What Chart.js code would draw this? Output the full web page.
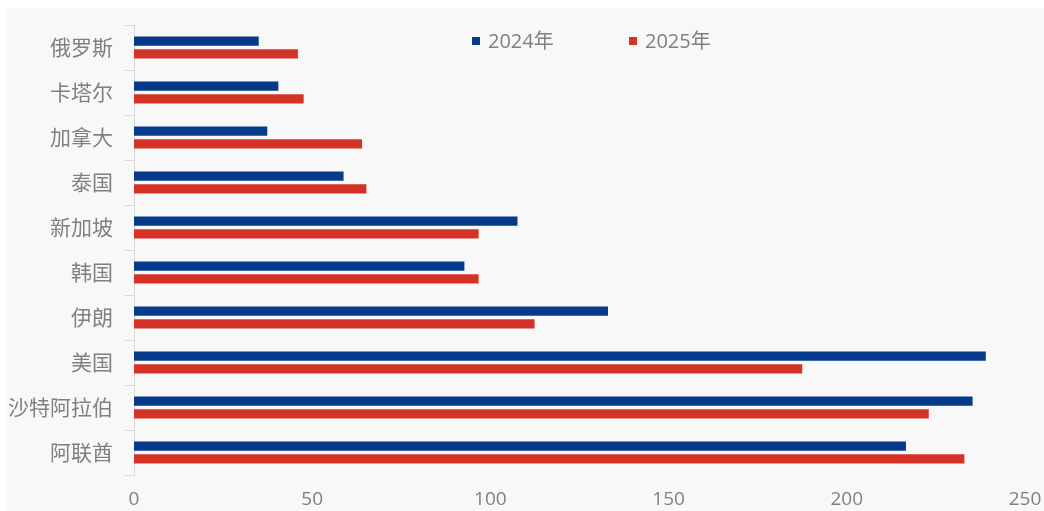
<!DOCTYPE html>
<html>
<head>
<meta charset="utf-8">
<script src="https://cdn.jsdelivr.net/npm/chart.js@4/dist/chart.umd.min.js"></script>
<style>
  html, body { margin: 0; padding: 0; background: #ffffff; }
  #wrap { width: 1044px; height: 511px; }
</style>
</head>
<body>
<div id="wrap"><canvas id="chart" width="1044" height="511"></canvas></div>
<script>
const categories = ['俄罗斯', '卡塔尔', '加拿大', '泰国', '新加坡', '韩国', '伊朗', '美国', '沙特阿拉伯', '阿联酋'];
const seriesNames = ['2024年', '2025年'];
const values2024 = [35, 40.5, 37.4, 58.8, 107.6, 92.7, 133, 239, 235.3, 216.6];
const values2025 = [46, 47.6, 64, 65.2, 96.7, 96.7, 112.4, 187.5, 223, 233];
const xTicks = [0, 50, 100, 150, 200, 250];

const BLUE = '#063b8b';
const RED = '#d43227';
const TEXT = '#808080';

// light grey panel behind the plot, leaving a thin white margin top/left
const panelBg = {
    id: 'panelBg',
    beforeDraw(chart) {
        const { ctx, width, height } = chart;
        ctx.save();
        ctx.fillStyle = '#ffffff';
        ctx.fillRect(0, 0, width, height);
        ctx.fillStyle = '#f8f8f8';
        ctx.fillRect(7, 8, width - 7, height - 8);
        ctx.restore();
    }
};

// legend sits inside the plot, near the top
const innerLegend = {
    id: 'innerLegend',
    afterDraw(chart) {
        const { ctx } = chart;
        const startX = 472, gap = 157, y = 41;
        ctx.save();
        ctx.font = '20px "Open Sans", "Noto Sans CJK SC", sans-serif';
        ctx.textBaseline = 'middle';
        ctx.textAlign = 'left';
        chart.data.datasets.forEach((ds, i) => {
            const x = startX + i * gap;
            ctx.fillStyle = ds.backgroundColor;
            ctx.fillRect(x, y - 4, 8, 8);
            ctx.fillStyle = TEXT;
            ctx.fillText(ds.label, x + 16, y + 1);
        });
        ctx.restore();
    }
};

const ctx = document.getElementById('chart').getContext('2d');
new Chart(ctx, {
    type: 'bar',
    data: {
        labels: categories,
        datasets: [
            { label: seriesNames[0], data: values2024, backgroundColor: BLUE },
            { label: seriesNames[1], data: values2025, backgroundColor: RED }
        ]
    },
    options: {
        indexAxis: 'y',
        responsive: false,
        animation: false,
        devicePixelRatio: 1,
        categoryPercentage: 0.556,
        barPercentage: 0.74,
        layout: { padding: { top: 25, right: 19, bottom: 0, left: 0 } },
        plugins: {
            legend: { display: false },
            tooltip: { enabled: false }
        },
        scales: {
            x: {
                min: 0,
                max: 250,
                afterBuildTicks: scale => { scale.ticks = xTicks.map(v => ({ value: v })); },
                afterFit: scale => {
                    scale.height = 36;
                    scale.paddingLeft = 0;
                    scale.paddingRight = 0;
                },
                grid: { display: false, drawTicks: false },
                border: { display: false },
                ticks: {
                    padding: 13,
                    color: TEXT,
                    font: { family: '"Open Sans", sans-serif', size: 19 }
                }
            },
            y: {
                afterFit: scale => { scale.width = 134; },
                grid: {
                    offset: true,
                    drawOnChartArea: false,
                    drawTicks: true,
                    tickLength: 9,
                    color: '#d9d9d9'
                },
                border: { display: true, color: '#d9d9d9' },
                ticks: {
                    padding: 12,
                    color: TEXT,
                    font: { family: '"Noto Sans CJK SC", sans-serif', size: 21 }
                }
            }
        }
    },
    plugins: [panelBg, innerLegend]
});
</script>
</body>
</html>
